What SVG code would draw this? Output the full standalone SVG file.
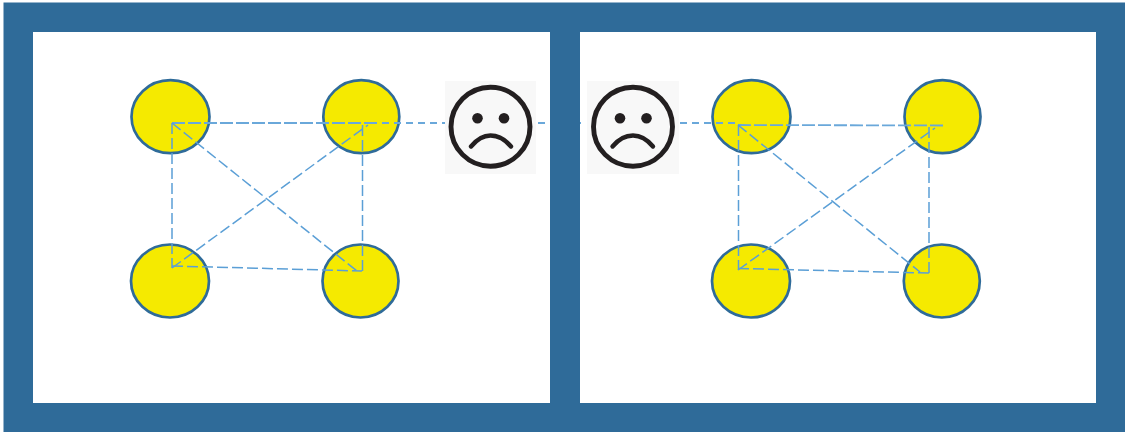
<svg xmlns="http://www.w3.org/2000/svg" width="1125" height="432" viewBox="0 0 1125 432">
<defs>
<style>
.frame{fill:#2f6b99}
.node{fill:#f5ea00;stroke:#2f6b99;stroke-width:2.7}
.c{fill:none;stroke:#5b9fd6;stroke-width:1.5;stroke-dasharray:11 4}
.f{stroke:#6aa8da;stroke-width:1.8;stroke-dasharray:7 5}
.t{stroke:#6aa8da;stroke-width:1.8;stroke-dasharray:13 3}
.tile{fill:#f8f8f8}
.ring{fill:none;stroke:#231f20;stroke-width:4.9}
.eye{fill:#231f20}
.mouth{fill:none;stroke:#231f20;stroke-width:4.4;stroke-linecap:round}
</style>
</defs>
<rect width="1125" height="432" fill="#fff"/>
<g id="node-a1"><ellipse class="node" cx="170.500" cy="116.700" rx="39" ry="36.500"/></g>
<g id="node-a2"><ellipse class="node" cx="361.300" cy="116.700" rx="38" ry="36.500"/></g>
<g id="node-a3"><ellipse class="node" cx="170" cy="281" rx="39" ry="36.500"/></g>
<g id="node-a4"><ellipse class="node" cx="360.500" cy="281" rx="38" ry="36.500"/></g>
<g id="node-b1"><ellipse class="node" cx="751.500" cy="116.700" rx="39" ry="36.500"/></g>
<g id="node-b2"><ellipse class="node" cx="942.500" cy="116.700" rx="38" ry="36.500"/></g>
<g id="node-b3"><ellipse class="node" cx="751" cy="281" rx="39" ry="36.500"/></g>
<g id="node-b4"><ellipse class="node" cx="941.800" cy="281" rx="38" ry="36.500"/></g>
<g id="connectors">
<path class="c f" d="M370 123H582M680 123H738"/>
<path class="c t" d="M172 123H370"/>
<path class="c t" d="M738 125L946 125.500"/>
<path class="c" d="M172 123V268"/>
<path class="c" d="M362.500 125V271"/>
<path class="c" d="M172 266L362 271"/>
<path class="c" d="M172 123L357 271"/>
<path class="c" d="M172 268L368 125"/>
<path class="c" d="M738.500 125V270"/>
<path class="c" d="M929 127V273"/>
<path class="c" d="M738 268.500L929 273"/>
<path class="c" d="M738 125L920 272"/>
<path class="c" d="M738 270L935 128"/>
</g>
<path id="frame" class="frame" fill-rule="evenodd" d="M3.500 2.500H1125V432H3.500ZM33 32V403H550V32ZM580 32V403H1096V32Z"/>
<g id="face-left">
<rect class="tile" x="445" y="81" width="91" height="93"/>
<circle class="ring" cx="490.500" cy="126.700" r="39.500"/>
<circle class="eye" cx="477.500" cy="118.300" r="5.300"/>
<circle class="eye" cx="504" cy="118.300" r="5.300"/>
<path class="mouth" d="M471 146.500C478 138 484 135.500 490.500 135.500C497 135.500 504 138 511 146.500"/>
</g>
<g id="face-right">
<rect class="tile" x="587" y="81" width="92" height="93"/>
<circle class="ring" cx="633" cy="126.700" r="39.500"/>
<circle class="eye" cx="620" cy="118.300" r="5.300"/>
<circle class="eye" cx="646.500" cy="118.300" r="5.300"/>
<path class="mouth" d="M612.500 146.500C619.500 138 626 135.500 633 135.500C640 135.500 646 138 653 146.500"/>
</g>
</svg>
